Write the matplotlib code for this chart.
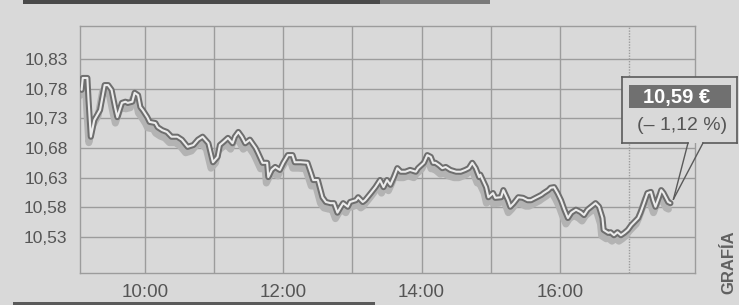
import matplotlib
matplotlib.use("Agg")
import matplotlib.pyplot as plt
from matplotlib import transforms
from matplotlib.patches import Rectangle
from matplotlib.lines import Line2D

# ---------------- data ----------------
times = ["9:05", "9:06", "9:10", "9:11", "9:13", "9:16", "9:21", "9:25", "9:28", "9:31",
         "9:34", "9:36", "9:40", "9:43", "9:45", "9:49", "9:51", "9:54", "9:56", "9:58",
         "10:02", "10:04", "10:09", "10:11", "10:15", "10:19", "10:23", "10:28", "10:32", "10:37",
         "10:42", "10:46", "10:50", "10:55", "10:59", "11:03", "11:05", "11:08", "11:12", "11:16",
         "11:18", "11:21", "11:24", "11:27", "11:31", "11:36", "11:38", "11:42", "11:46", "11:47",
         "11:50", "11:53", "11:57", "12:00", "12:04", "12:08", "12:10", "12:15", "12:21", "12:24",
         "12:26", "12:30", "12:34", "12:37", "12:41", "12:44", "12:47", "12:50", "12:52", "12:56",
         "12:58", "13:03", "13:05", "13:09", "13:11", "13:16", "13:20", "13:24", "13:27", "13:30",
         "13:33", "13:36", "13:39", "13:42", "13:46", "13:50", "13:55", "13:57", "14:02", "14:05",
         "14:08", "14:10", "14:12", "14:15", "14:18", "14:21", "14:25", "14:30", "14:34", "14:38",
         "14:41", "14:44", "14:47", "14:50", "14:51", "14:56", "14:58", "15:02", "15:04", "15:09",
         "15:11", "15:15", "15:17", "15:20", "15:24", "15:28", "15:32", "15:35", "15:39", "15:44",
         "15:46", "15:50", "15:52", "15:55", "15:58", "16:01", "16:04", "16:07", "16:10", "16:14",
         "16:18", "16:21", "16:24", "16:29", "16:31", "16:34", "16:37", "16:38", "16:42", "16:44",
         "16:47", "16:50", "16:53", "16:56", "16:59", "17:02", "17:04", "17:08", "17:10", "17:13",
         "17:16", "17:19", "17:21", "17:23", "17:26", "17:28", "17:30", "17:34", "17:36"]
prices = [10.778, 10.798, 10.798, 10.761, 10.699, 10.727, 10.744, 10.786, 10.786, 10.778,
          10.749, 10.732, 10.756, 10.758, 10.756, 10.758, 10.773, 10.769, 10.749, 10.744,
          10.732, 10.724, 10.722, 10.715, 10.710, 10.707, 10.699, 10.699, 10.694, 10.682,
          10.685, 10.694, 10.699, 10.688, 10.656, 10.665, 10.685, 10.690, 10.697, 10.688,
          10.699, 10.707, 10.699, 10.688, 10.694, 10.680, 10.672, 10.655, 10.655, 10.631,
          10.643, 10.648, 10.643, 10.655, 10.668, 10.668, 10.656, 10.656, 10.655, 10.638,
          10.626, 10.626, 10.597, 10.589, 10.587, 10.587, 10.571, 10.581, 10.587, 10.581,
          10.589, 10.592, 10.597, 10.589, 10.592, 10.604, 10.614, 10.626, 10.614, 10.626,
          10.618, 10.631, 10.646, 10.640, 10.640, 10.643, 10.640, 10.646, 10.655, 10.668,
          10.665, 10.655, 10.655, 10.651, 10.646, 10.648, 10.643, 10.640, 10.640, 10.643,
          10.646, 10.655, 10.646, 10.631, 10.635, 10.614, 10.597, 10.604, 10.596, 10.597,
          10.609, 10.592, 10.581, 10.587, 10.597, 10.596, 10.592, 10.592, 10.596, 10.601,
          10.604, 10.609, 10.613, 10.614, 10.604, 10.592, 10.576, 10.562, 10.571, 10.576,
          10.572, 10.567, 10.576, 10.584, 10.587, 10.581, 10.562, 10.542, 10.537, 10.538,
          10.533, 10.538, 10.533, 10.537, 10.542, 10.550, 10.554, 10.562, 10.571, 10.587,
          10.604, 10.606, 10.592, 10.581, 10.597, 10.609, 10.604, 10.589, 10.587]
y_ticks = [10.53, 10.58, 10.63, 10.68, 10.73, 10.78, 10.83]
x_tick_labels = ["10:00", "12:00", "14:00", "16:00"]
grid_hours = ["10:00", "11:00", "12:00", "13:00", "14:00", "15:00", "16:00", "17:00"]
last_price_label = "10,59 \u20ac"
change_label = "(\u2013 1,12 %)"
credit_label = "GRAFÍA"


def to_min(s):
    h, m = s.split(":")
    return int(h) * 60 + int(m)


t = [to_min(s) for s in times]

# ---------------- style ----------------
W, H = 739, 305
BG = "#d9d9d9"
GRID = "#9c9c9c"
TXT = "#555555"
plt.rcParams["font.family"] = ["Liberation Sans", "DejaVu Sans"]

fig = plt.figure(figsize=(W / 100, H / 100), dpi=100)
fig.patch.set_facecolor(BG)


def fx(x):
    return x / W


def fy(y):
    return 1 - y / H


ax = fig.add_axes([fx(80), fy(273), (695 - 80) / W, (273 - 26) / H])
ax.set_facecolor(BG)
ax.set_xlim(543.6, 1077.3)
ax.set_ylim(10.4693, 10.8856)

for s in ax.spines.values():
    s.set_color(GRID)
    s.set_linewidth(1.0)

for g in grid_hours:
    ls = (0, (1, 1)) if g == grid_hours[-1] else "-"
    ax.axvline(to_min(g), color=GRID, lw=1.0, ls=ls, zorder=1)
for v in y_ticks:
    ax.axhline(v, color=GRID, lw=1.0, zorder=1)

ax.set_yticks(y_ticks)
ax.set_yticklabels([f"{v:.2f}".replace(".", ",") for v in y_ticks])
ax.set_xticks([to_min(s) for s in x_tick_labels])
ax.set_xticklabels(x_tick_labels)
ax.tick_params(axis="y", length=0, pad=9, labelsize=12.5, colors=TXT)
ax.tick_params(axis="x", length=0, pad=8, labelsize=13.5, colors=TXT)

# shadow
shadow_tr = transforms.offset_copy(ax.transData, fig=fig, x=-2, y=-6, units="dots")
ax.plot(t, prices, color="#b3b3b3", lw=5.0, transform=shadow_tr, zorder=2,
        solid_joinstyle="round", solid_capstyle="round")
ax.plot(t, prices, color="#6e6e6e", lw=4.4, zorder=3,
        solid_joinstyle="round", solid_capstyle="round")
ax.plot(t, prices, color="#ececec", lw=1.5, zorder=4,
        solid_joinstyle="round", solid_capstyle="round")

# ---------------- callout ----------------
EDGE = "#5a5a5a"
bx0, bx1, by0, by1 = 622, 737, 77, 143
fig.add_artist(Rectangle((fx(bx0), fy(by1)), (bx1 - bx0) / W, (by1 - by0) / H,
                         transform=fig.transFigure, facecolor=BG, edgecolor="none", zorder=5))
segs = [((bx0, by0), (bx1, by0)), ((bx0, by0), (bx0, by1)), ((bx1, by0), (bx1, by1)),
        ((bx0, by1), (688, by1)), ((703, by1), (bx1, by1))]
for (a, b) in segs:
    fig.add_artist(Line2D([fx(a[0]), fx(b[0])], [fy(a[1]), fy(b[1])],
                          transform=fig.transFigure, color=EDGE, lw=1.2, zorder=6))
# pointer tip anchored to last data point
tip_disp = ax.transData.transform((t[-1], prices[-1]))
tip = fig.transFigure.inverted().transform((tip_disp[0] + 3, tip_disp[1] + 4))
for px in (688, 703):
    fig.add_artist(Line2D([fx(px), tip[0]], [fy(by1), tip[1]],
                          transform=fig.transFigure, color=EDGE, lw=1.0, zorder=6))

fig.add_artist(Rectangle((fx(629), fy(108)), (731 - 629) / W, (108 - 85) / H,
                         transform=fig.transFigure, facecolor="#707070",
                         edgecolor="none", zorder=7))
fig.text(fx(677), fy(97), last_price_label, color="white", fontsize=14.5,
         fontweight="bold", ha="center", va="center", zorder=8)
fig.text(fx(682), fy(125), change_label, color=TXT, fontsize=14,
         ha="center", va="center", zorder=8)

# ---------------- decorations ----------------
fig.add_artist(Rectangle((fx(23), fy(4)), (380 - 23) / W, 4 / H, transform=fig.transFigure,
                         facecolor="#4a4a4a", edgecolor="none"))
fig.add_artist(Rectangle((fx(380), fy(4)), (490 - 380) / W, 4 / H, transform=fig.transFigure,
                         facecolor="#7a7a7a", edgecolor="none"))
fig.add_artist(Rectangle((fx(13), 0), (375 - 13) / W, 3 / H, transform=fig.transFigure,
                         facecolor="#5a5a5a", edgecolor="none"))
fig.text(fx(729), fy(262), credit_label, rotation=90, color="#606060", fontsize=12,
         fontweight="bold", ha="center", va="center")

fig.savefig("out.png", dpi=100, facecolor=BG)
